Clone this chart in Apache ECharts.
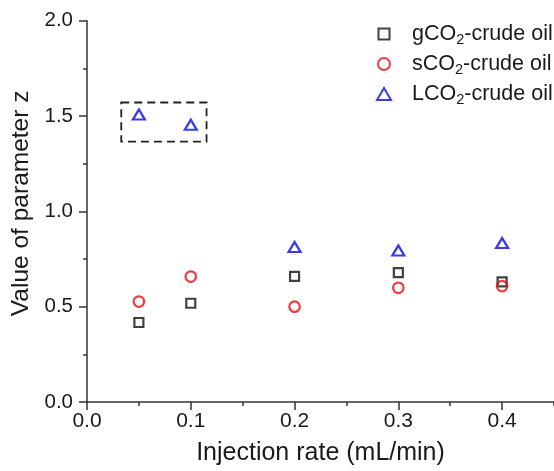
<!DOCTYPE html>
<html>
<head>
<meta charset="utf-8">
<script src="https://cdn.jsdelivr.net/npm/echarts@6/dist/echarts.min.js"></script>
<style>
html,body{margin:0;padding:0;background:#fff;}
#chart{width:554px;height:471px;}
</style>
</head>
<body>
<div id="chart"></div>
<script>
// ---- data ----
var injectionRates = [0.05, 0.1, 0.2, 0.3, 0.4];
var gCO2Values = [0.417, 0.518, 0.659, 0.679, 0.630];
var sCO2Values = [0.527, 0.658, 0.500, 0.599, 0.608];
var LCO2Values = [1.508, 1.454, 0.813, 0.795, 0.834];
var seriesNames = ['gCO2-crude oil', 'sCO2-crude oil', 'LCO2-crude oil'];
var xTickValues = [0.0, 0.1, 0.2, 0.3, 0.4];
var yTickValues = [0.0, 0.5, 1.0, 1.5, 2.0];
var highlightBox = [[0.033, 1.571], [0.1152, 1.366]];

var FONT = "'Liberation Sans', Arial, sans-serif";
var TXT = '#1a1a1a';
var AX = '#333';

function pairs(xs, ys) { return xs.map(function (x, i) { return [x, ys[i]]; }); }

var richLegend = {
  t: { fontSize: 21.5, fontFamily: FONT, color: TXT, lineHeight: 26 },
  s: { fontSize: 14.5, fontFamily: FONT, color: TXT, lineHeight: 14, verticalAlign: 'bottom' }
};
function legendFmt(name) {
  var m = name.match(/^(.*CO)2(.*)$/);
  return '{t|' + m[1] + '}{s|2}{t|' + m[2] + '}';
}
function mkLegend(name, w, h, cy) {
  return {
    data: [name], orient: 'vertical', left: 383 - w / 2, top: cy - 13,
    padding: 0, itemWidth: w, itemHeight: h, selectedMode: false,
    formatter: legendFmt,
    textStyle: { rich: richLegend, padding: [0, 0, 0, 23 - w / 2] }
  };
}

var option = {
  animation: false,
  backgroundColor: '#fff',
  grid: { left: 87, top: 20.7, bottom: 68.3, right: -5.5 },
  legend: [
    mkLegend(seriesNames[0], 11, 11, 36),
    mkLegend(seriesNames[1], 12, 12, 66),
    mkLegend(seriesNames[2], 14, 12, 96)
  ],
  xAxis: [{
    type: 'value', min: 0, max: 0.45, interval: 0.1,
    name: 'Injection rate (mL/min)', nameLocation: 'middle', nameGap: 39,
    nameTextStyle: { fontSize: 25, fontFamily: FONT, color: TXT },
    axisLine: { show: true, lineStyle: { color: AX, width: 1.5 } },
    axisTick: { show: true, length: 8, lineStyle: { color: AX, width: 1.5 } },
    axisLabel: { margin: 9, fontSize: 21, fontFamily: FONT, color: TXT, showMaxLabel: false,
      formatter: function (v) { var r = Math.round(v * 10) / 10; return (Math.abs(v - r) < 1e-6 && xTickValues.indexOf(r) >= 0) ? v.toFixed(1) : ''; } },
    splitLine: { show: false }
  }, {
    type: 'value', min: 0, max: 0.45, interval: 0.05, position: 'bottom',
    axisLine: { show: false },
    axisTick: { show: true, length: 4, lineStyle: { color: AX, width: 1.5 } },
    axisLabel: { show: false }, splitLine: { show: false }
  }],
  yAxis: {
    type: 'value', min: 0, max: 2, interval: 0.5,
    name: 'Value of parameter z', nameLocation: 'middle', nameGap: 49,
    nameTextStyle: { fontSize: 24.5, fontFamily: FONT, color: TXT, padding: [0, 0, 0, 16] },
    axisLine: { show: true, lineStyle: { color: AX, width: 1.5 } },
    axisTick: { show: true, length: 8, lineStyle: { color: AX, width: 1.5 } },
    minorTick: { show: true, splitNumber: 2, length: 4, lineStyle: { color: AX, width: 1.5 } },
    axisLabel: { margin: 14, fontSize: 20.5, fontFamily: FONT, color: TXT,
      formatter: function (v) { return yTickValues.indexOf(v) >= 0 ? v.toFixed(1) : ''; } },
    splitLine: { show: false }
  },
  series: [{
    name: seriesNames[0], type: 'scatter', symbol: 'rect', symbolSize: 9,
    itemStyle: { color: '#fff', borderColor: '#111', borderWidth: 2.2 },
    data: pairs(injectionRates, gCO2Values), z: 2
  }, {
    name: seriesNames[1], type: 'scatter', symbol: 'circle', symbolSize: 10.5,
    itemStyle: { color: 'rgba(255,255,255,0)', borderColor: '#e80c12', borderWidth: 2.2 },
    data: pairs(injectionRates, sCO2Values), z: 3
  }, {
    name: seriesNames[2], type: 'scatter', symbol: 'triangle', symbolSize: [12, 10],
    itemStyle: { color: 'rgba(255,255,255,0)', borderColor: '#0a0ae0', borderWidth: 2.2 },
    data: pairs(injectionRates, LCO2Values), z: 4,
    markArea: {
      silent: true,
      itemStyle: { color: 'rgba(0,0,0,0)', borderColor: '#222', borderWidth: 1.8, borderType: [8, 5] },
      data: [[{ coord: highlightBox[0] }, { coord: highlightBox[1] }]]
    }
  }]
};

var chart = echarts.init(document.getElementById('chart'), null, { renderer: 'canvas' });
chart.setOption(option);
</script>
</body>
</html>
